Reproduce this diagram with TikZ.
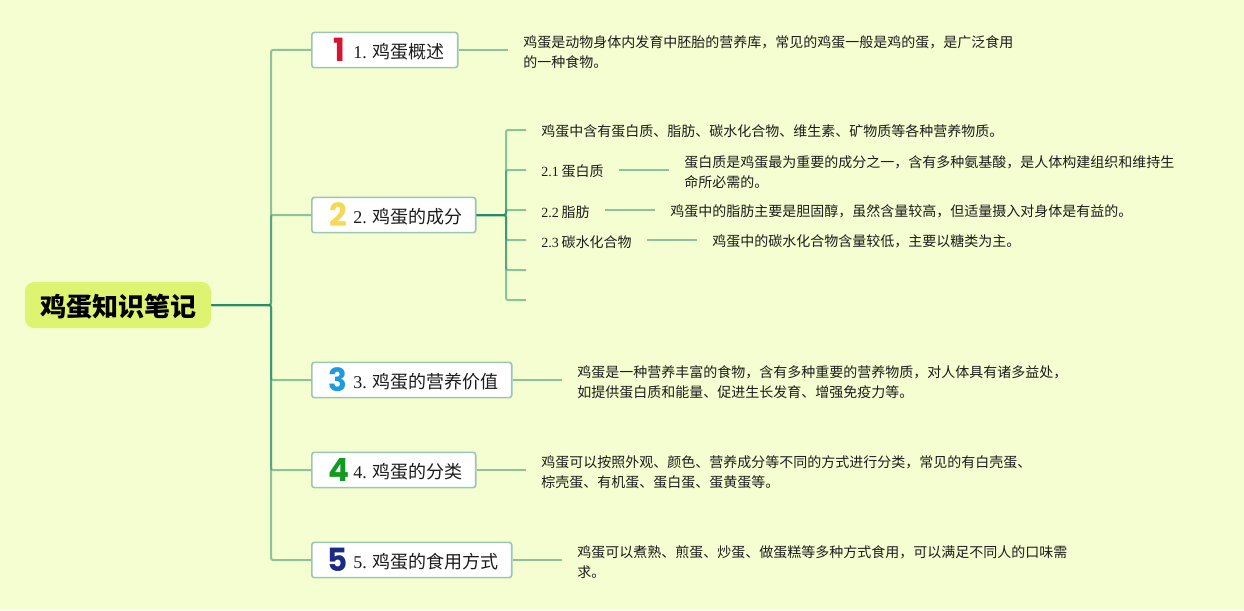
\documentclass[tikz,border=0pt]{standalone}
\usepackage{fontspec}
\setmainfont{Liberation Serif}
\newfontfamily\cjk{Noto Sans CJK SC}
\newfontfamily\iconfont{Poppins}[BoldFont={Poppins Bold}]
\definecolor{bgc}{HTML}{F5FED0}
\definecolor{rootc}{HTML}{DEF370}
\definecolor{linkc}{HTML}{238A66}
\definecolor{boxline}{HTML}{9CC6B2}
\definecolor{inkc}{HTML}{1C1C1C}
\tikzset{
  link/.style={draw=linkc,draw opacity=.5,line width=1.5pt,rounded corners=1.5pt},
  rootnode/.style={fill=rootc,rounded corners=7pt,minimum width=139.5pt,minimum height=34.5pt,inner sep=0pt,
    font=\fontsize{19.5pt}{24pt}\selectfont\cjk\bfseries,text=black,
    execute at begin node={\rule{0pt}{19pt}}},
  topicnode/.style={draw=boxline,line width=1.2pt,fill=white,rounded corners=2pt,anchor=west,
    minimum height=26.5pt,inner xsep=10.4pt,inner ysep=0pt,text=inkc,font=\fontsize{13.5pt}{17pt}\selectfont,
    execute at begin node={\rule{0pt}{13.4pt}}},
  icon/.style={font=\fontsize{24pt}{24pt}\selectfont\iconfont\bfseries,inner sep=0pt,xscale=.97},
  plaintext/.style={anchor=west,inner xsep=11.25pt,inner ysep=0pt,text=inkc,font=\fontsize{10.5pt}{15pt}\selectfont},
  subnode/.style={plaintext,execute at begin node={\rule{0pt}{11.4pt}}},
  leafnode/.style={plaintext,align=left},
}
\newcommand{\tpad}{\hspace*{20.75pt}}
\newcommand{\tend}{\hspace*{-.75pt}}
\newcommand{\lift}{\rule{0pt}{12.2pt}}
\begin{document}
\begin{tikzpicture}[x=.75pt,y=-.75pt]
\path[use as bounding box,fill=bgc] (0,0) rectangle (1244,610);
% nodes
\node[rootnode] (root) at (118,305) {鸡蛋知识笔记};
\node[topicnode] (t1) at (311,50) {\tpad 1. {\cjk 鸡蛋概述}\tend};
\node[topicnode] (t2) at (311,215) {\tpad 2. {\cjk 鸡蛋的成分}\tend};
\node[topicnode] (t3) at (311,380) {\tpad 3. {\cjk 鸡蛋的营养价值}\tend};
\node[topicnode] (t4) at (311,470) {\tpad 4. {\cjk 鸡蛋的分类}\tend};
\node[topicnode] (t5) at (311,560) {\tpad 5. {\cjk 鸡蛋的食用方式}\tend};
\node[icon] (i1) at (339,50) {\textcolor[HTML]{D7132F}{1}};
\node[icon] (i2) at (338,215) {\textcolor[HTML]{F6D857}{2}};
\node[icon] (i3) at (338,380) {\textcolor[HTML]{1E9BE0}{3}};
\node[icon] (i4) at (339,470) {\textcolor[HTML]{119A22}{4}};
\node[icon] (i5) at (338,560) {\textcolor[HTML]{1B2A85}{5}};
\node[leafnode] (d1) at (508,50) {\lift\cjk 鸡蛋是动物身体内发育中胚胎的营养库，常见的鸡蛋一般是鸡的蛋，是广泛食用\\\cjk 的一种食物。};
\node[subnode] (c0) at (526,130) {\cjk 鸡蛋中含有蛋白质、脂肪、碳水化合物、维生素、矿物质等各种营养物质。};
\node[subnode] (c1) at (526,170) {2.1\hspace{-.4pt} {\cjk 蛋白质}};
\node[subnode] (c2) at (526,210) {2.2\hspace{-.4pt} {\cjk 脂肪}};
\node[subnode] (c3) at (526,240) {2.3\hspace{-.4pt} {\cjk 碳水化合物}};
\coordinate (c4) at (526,270);
\coordinate (c5) at (526,300);
\node[leafnode] (d21) at (669,170) {\lift\cjk 蛋白质是鸡蛋最为重要的成分之一，含有多种氨基酸，是人体构建组织和维持生\\\cjk 命所必需的。};
\node[subnode] (d22) at (655,210) {\cjk 鸡蛋中的脂肪主要是胆固醇，虽然含量较高，但适量摄入对身体是有益的。};
\node[subnode] (d23) at (697,240) {\cjk 鸡蛋中的碳水化合物含量较低，主要以糖类为主。};
\node[leafnode] (d3) at (562,380) {\lift\cjk 鸡蛋是一种营养丰富的食物，含有多种重要的营养物质，对人体具有诸多益处，\\\cjk 如提供蛋白质和能量、促进生长发育、增强免疫力等。};
\node[leafnode] (d4) at (526,470) {\lift\cjk 鸡蛋可以按照外观、颜色、营养成分等不同的方式进行分类，常见的有白壳蛋、\\\cjk 棕壳蛋、有机蛋、蛋白蛋、蛋黄蛋等。};
\node[leafnode] (d5) at (562,560) {\lift\cjk 鸡蛋可以煮熟、煎蛋、炒蛋、做蛋糕等多种方式食用，可以满足不同人的口味需\\\cjk 求。};
% trunks
\coordinate (trunk) at (271,305);
\coordinate (twig) at (506,215);
\foreach \n in {t1,t2,t3,t4,t5}{
  \draw[link] (root.east) -- (trunk) |- (\n.west);
}
\foreach \n in {c0,c1,c2,c3}{
  \draw[link] (t2.east) -- (twig) |- (\n.west);
}
\foreach \n in {c4,c5}{
  \draw[link] (t2.east) -- (twig) |- (\n);
}
\draw[link] (t1.east) -- (d1.west);
\draw[link] (t3.east) -- (d3.west);
\draw[link] (t4.east) -- (d4.west);
\draw[link] (t5.east) -- (d5.west);
\draw[link] (c1.east) -- (d21.west);
\draw[link] (c2.east) -- (d22.west);
\draw[link] (c3.east) -- (d23.west);
\end{tikzpicture}
\end{document}
